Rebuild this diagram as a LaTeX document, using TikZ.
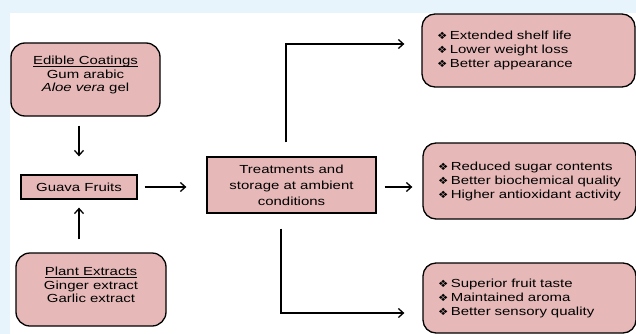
\documentclass[tikz,border=0pt]{standalone}
\usepackage{fontspec}
\setmainfont{Liberation Sans}[FakeStretch=1.28]
\newfontfamily\dejavu{DejaVu Sans}[FakeStretch=1.15]
\usetikzlibrary{arrows.meta}
\definecolor{bgblue}{RGB}{232,244,252}
\definecolor{boxpink}{RGB}{230,185,184}
\newcommand{\bul}{{\dejavu\fontsize{10}{10}\selectfont ❖}\hspace{2.5pt}}
\newcommand{\myul}[1]{\underline{\smash{#1}}}
\tikzset{
  rbox/.style={draw=black, line width=1.3pt, fill=boxpink, rounded corners=14pt, align=center, inner sep=2pt},
  sbox/.style={draw=black, line width=1.3pt, fill=boxpink, align=center, inner sep=2pt},
  outbox/.style={draw=black, line width=1.3pt, fill=boxpink, rounded corners=13pt, align=left,
    text width=183pt, inner xsep=15pt, minimum width=213pt, font=\fontsize{11.7}{14}\selectfont},
  arr/.style={-{Straight Barb[length=5pt,width=9pt]}, line width=1.3pt}
}
\begin{document}
\begin{tikzpicture}[x=1pt,y=-1pt, font=\fontsize{11.7}{13.5}\selectfont]
\fill[bgblue] (0,0) rectangle (636,334);
\fill[white] (10,13) rectangle (636,334);
\useasboundingbox (0,0) rectangle (636,334);

\node[rbox, minimum width=149pt, minimum height=73pt] (edible) at (85.5,79.5)
  {\myul{Edible Coatings}\\Gum arabic\\\textit{Aloe vera} gel};
\node[sbox, minimum width=116pt, minimum height=24pt] (guava) at (79,187) {Guava Fruits};
\node[rbox, minimum width=150pt, minimum height=73pt] (plant) at (91,289.5)
  {\myul{Plant Extracts}\\Ginger extract\\Garlic extract};
\node[sbox, minimum width=169pt, minimum height=56pt, font=\fontsize{11.7}{16}\selectfont] (treat) at (291.5,185)
  {Treatments and\\storage at ambient\\conditions};
\node[outbox, minimum height=73pt] (r1) at (528.5,50.5)
  {\bul Extended shelf life\\\bul Lower weight loss\\\bul Better appearance};
\node[outbox, minimum height=76pt] (r2) at (529.5,181)
  {\bul Reduced sugar contents\\\bul Better biochemical quality\\\bul Higher antioxidant activity};
\node[outbox, minimum height=70pt] (r3) at (529.5,298)
  {\bul Superior fruit taste\\\bul Maintained aroma\\\bul Better sensory quality};

\draw[arr, shorten <=9pt, shorten >=18pt] (edible.south -| guava.north) -- (guava.north);
\draw[arr, shorten <=13pt, shorten >=8pt] (plant.north -| guava.south) -- (guava.south);
\draw[arr, shorten <=7pt, shorten >=20pt] (guava.east) -- (guava.east -| treat.west);
\draw[arr, shorten <=8pt, shorten >=10pt] ([yshift=-2pt]treat.east) -- ([yshift=-2pt]treat.east -| r2.west);
\draw[arr, shorten <=14pt, shorten >=17pt] ([xshift=-5.5pt]treat.north) |- ([yshift=6.5pt]r1.west);
\draw[arr, shorten <=15pt, shorten >=18pt] ([xshift=-10.5pt]treat.south) |- ([yshift=-15pt]r3.west);
\end{tikzpicture}
\end{document}
